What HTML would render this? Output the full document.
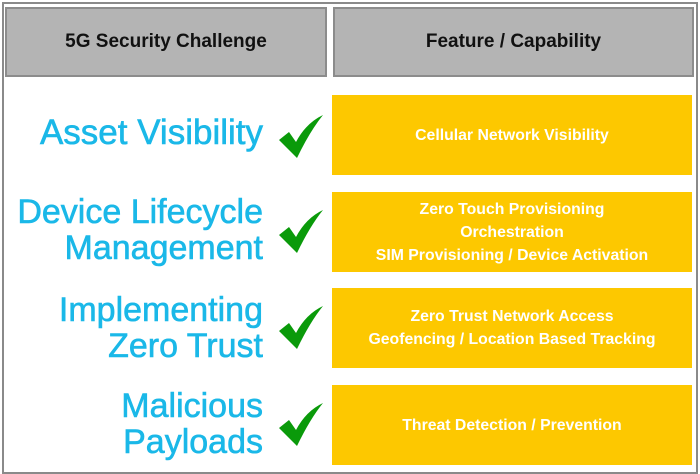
<!DOCTYPE html>
<html><head><style>
body{margin:0;width:700px;height:474px;background:#fff;position:relative;overflow:hidden;font-family:"Liberation Sans",Arial,sans-serif}
.abs{position:absolute}
.outer{left:2px;top:2px;width:692px;height:468px;border:2px solid #8a8a8a}
.hdr{background:#b4b4b4;border:2px solid #8c8c8c;box-sizing:border-box;top:7px;height:70px;display:flex;align-items:center;justify-content:center;font-weight:bold;font-size:19px;color:#111}
.y{background:#fdc800;left:332px;width:360px;height:80px;display:flex;flex-direction:column;align-items:center;justify-content:center;color:#fff;font-weight:bold;font-size:15.8px;line-height:23px;text-align:center}
.lab{right:437px;color:#1ab8e8;font-size:34px;line-height:36px;text-align:right;white-space:nowrap;-webkit-text-stroke:0.6px #1ab8e8}
.ck{left:278px;width:46px;height:46px}
</style></head><body>
<div class="abs outer"></div>
<div class="abs hdr" style="left:5px;width:322px">5G Security Challenge</div>
<div class="abs hdr" style="left:333px;width:361px">Feature / Capability</div>

<div class="abs y" style="top:95px">Cellular Network Visibility</div>
<div class="abs y" style="top:192px"><div>Zero Touch Provisioning</div><div>Orchestration</div><div>SIM Provisioning / Device Activation</div></div>
<div class="abs y" style="top:288px"><div>Zero Trust Network Access</div><div>Geofencing / Location Based Tracking</div></div>
<div class="abs y" style="top:385px">Threat Detection / Prevention</div>

<div class="abs lab" style="top:115px;font-size:35px">Asset Visibility</div>
<div class="abs lab" style="top:194px">Device Lifecycle<br>Management</div>
<div class="abs lab" style="top:292px">Implementing<br>Zero Trust</div>
<div class="abs lab" style="top:388px">Malicious<br>Payloads</div>

<svg class="abs ck" style="top:114px" viewBox="0 0 46 46"><path d="M1 26 L11 18 L18 28 Q28 9 45 1 Q32 17 19 44 Z" fill="#0a9a0a"/></svg>
<svg class="abs ck" style="top:209px" viewBox="0 0 46 46"><path d="M1 26 L11 18 L18 28 Q28 9 45 1 Q32 17 19 44 Z" fill="#0a9a0a"/></svg>
<svg class="abs ck" style="top:305px" viewBox="0 0 46 46"><path d="M1 26 L11 18 L18 28 Q28 9 45 1 Q32 17 19 44 Z" fill="#0a9a0a"/></svg>
<svg class="abs ck" style="top:402px" viewBox="0 0 46 46"><path d="M1 26 L11 18 L18 28 Q28 9 45 1 Q32 17 19 44 Z" fill="#0a9a0a"/></svg>
</body></html>
